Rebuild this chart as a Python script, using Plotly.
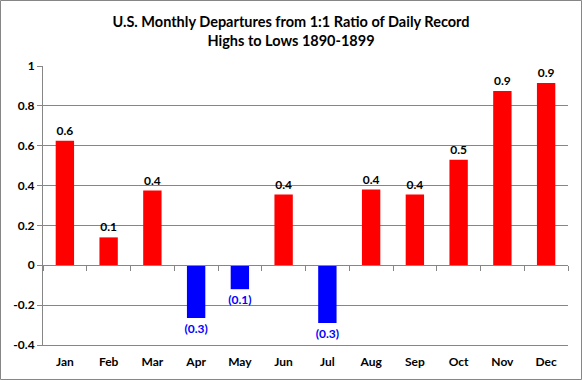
import plotly.graph_objects as go

months = ["Jan", "Feb", "Mar", "Apr", "May", "Jun", "Jul", "Aug", "Sep", "Oct", "Nov", "Dec"]
departures = [0.625, 0.14, 0.375, -0.265, -0.12, 0.355, -0.29, 0.38, 0.355, 0.53, 0.875, 0.915]
y_ticks = [-0.4, -0.2, 0, 0.2, 0.4, 0.6, 0.8, 1]
y_tick_labels = ["-0.4", "-0.2", "0", "0.2", "0.4", "0.6", "0.8", "1"]

def fmt(v):
    s = f"{abs(v):.1f}"
    return f"<b>({s})</b>" if v < 0 else f"<b>{s}</b>"

colors = ["#FF0000" if v >= 0 else "#0000FF" for v in departures]
text_colors = ["#000000" if v >= 0 else "#0000FF" for v in departures]

FONT = "Lato, 'Open Sans', sans-serif"

fig = go.Figure()
fig.add_trace(go.Bar(
    x=months, y=departures, marker=dict(color=colors, line=dict(width=0)),
    text=[fmt(v) for v in departures], textposition="outside", constraintext="none",
    textfont=dict(family=FONT, size=12, color=text_colors),
    cliponaxis=False, showlegend=False, hoverinfo="skip",
))
# invisible trace on a second x axis placed at y=0 to draw the category tick marks
fig.add_trace(go.Scatter(x=months, y=[None]*len(months), xaxis="x2", showlegend=False, hoverinfo="skip"))

L, R, T, B = 43, 14, 66, 35
W, H = 582, 380
pw, ph = W - L - R, H - T - B
zero_frac = (0 - (-0.4)) / 1.4
xr = [-0.5, len(months) - 0.5]

fig.update_layout(
    width=W, height=H,
    margin=dict(l=L, r=R, t=T, b=B, autoexpand=False),
    paper_bgcolor="white", plot_bgcolor="white",
    bargap=0.58,
    font=dict(family=FONT, color="black"),
    title=dict(
        text="<b>U.S. Monthly Departures from 1:1 Ratio of Daily Record<br>Highs to Lows 1890-1899</b>",
        x=0.5, xanchor="center", y=1 - 27 / H, yanchor="top",
        font=dict(family=FONT, size=14.5, color="black"),
    ),
    xaxis=dict(
        type="category", range=xr, showgrid=False, showline=True, linecolor="#868686", linewidth=1,
        ticks="", tickfont=dict(family=FONT, size=12, color="black"), automargin=False,
        ticklabelstandoff=6, tickprefix="<b>", ticksuffix="</b>",
    ),
    xaxis2=dict(
        type="category", range=xr, overlaying="x", anchor="free", position=zero_frac, side="bottom",
        showline=True, linecolor="#868686", linewidth=1, ticks="outside", ticklen=5,
        tickcolor="#868686", tickson="boundaries", showticklabels=False, showgrid=False,
        automargin=False,
    ),
    yaxis=dict(
        range=[-0.4, 1], tickvals=y_ticks, ticktext=[f"<b>{t}</b>" for t in y_tick_labels],
        showgrid=True, gridcolor="#868686", gridwidth=1, zeroline=False, automargin=False,
        showline=True, linecolor="#868686", linewidth=1, ticks="outside", ticklen=5,
        tickcolor="#868686", tickfont=dict(family=FONT, size=12, color="black"),
    ),
    shapes=[dict(
        type="rect", xref="paper", yref="paper",
        x0=(0.5 - L) / pw, x1=(W - 0.5 - L) / pw,
        y0=(-(B - 0.5)) / ph, y1=(H - B - 0.5) / ph,
        line=dict(color="#868686", width=1), fillcolor="rgba(0,0,0,0)", layer="above",
    )],
)

fig.write_html("out.html", config={"displayModeBar": False},
               post_script="document.body.style.margin='0';")
